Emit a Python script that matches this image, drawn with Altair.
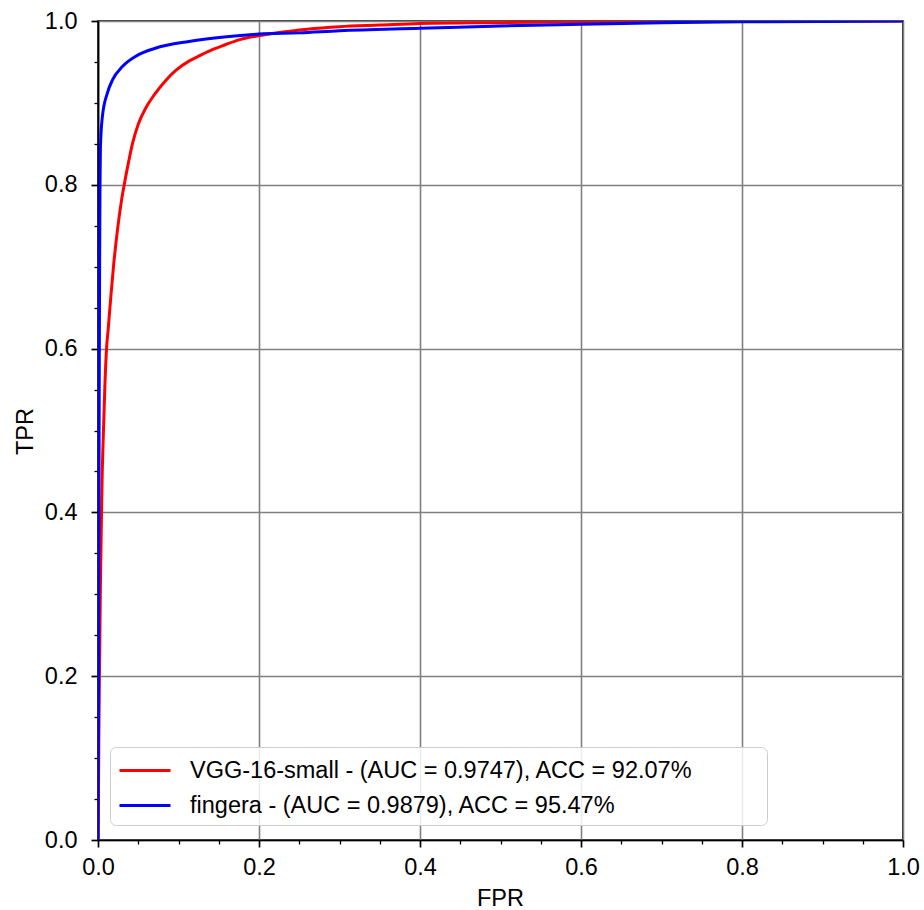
import altair as alt
import pandas as pd

# ROC curve points
vgg_fpr = [0, 0.0005, 0.001, 0.002, 0.003, 0.0043, 0.0051, 0.0068, 0.0085, 0.0106, 0.0126,
           0.0159, 0.0196, 0.0242, 0.0292, 0.0333, 0.038, 0.043, 0.05, 0.06, 0.07, 0.0847,
           0.097, 0.113, 0.127, 0.142, 0.158, 0.175, 0.2, 0.225, 0.26, 0.3, 0.35, 0.4, 0.5,
           0.6, 0.7, 0.8, 0.9, 1.0]
vgg_tpr = [0, 0.05, 0.12, 0.22, 0.31, 0.395, 0.44, 0.50, 0.553, 0.60, 0.623,
           0.663, 0.704, 0.745, 0.781, 0.804, 0.828, 0.851, 0.874, 0.895, 0.910, 0.928,
           0.940, 0.951, 0.958, 0.965, 0.971, 0.977, 0.982, 0.986, 0.990, 0.993, 0.995, 0.997,
           0.998, 0.999, 0.9995, 0.9998, 0.9999, 1.0]

fingera_fpr = [0, 0.0005, 0.001, 0.0015, 0.002, 0.0025, 0.003, 0.0054, 0.0116, 0.018, 0.030,
               0.047, 0.072, 0.113, 0.163, 0.2, 0.25, 0.3, 0.4, 0.5, 0.6, 0.7, 0.8, 0.9, 1.0]
fingera_tpr = [0, 0.15, 0.35, 0.55, 0.70, 0.80, 0.845, 0.883, 0.912, 0.928, 0.944,
               0.957, 0.967, 0.975, 0.981, 0.984, 0.9855, 0.988, 0.991, 0.994, 0.996, 0.998,
               0.999, 0.9995, 1.0]

series_names = ["VGG-16-small - (AUC = 0.9747), ACC = 92.07%",
                "fingera - (AUC = 0.9879), ACC = 95.47%"]
series_colors = ["#ff0000", "#0000ff"]

tick_values = [round(i * 0.05, 2) for i in range(21)]

df_vgg = pd.DataFrame({"FPR": vgg_fpr, "TPR": vgg_tpr, "model": series_names[0],
                       "order": range(len(vgg_fpr))})
df_fin = pd.DataFrame({"FPR": fingera_fpr, "TPR": fingera_tpr, "model": series_names[1],
                       "order": range(len(fingera_fpr))})

FONT = "Liberation Sans"
FS = 23.5
major = "abs(datum.value*5 - round(datum.value*5)) < 0.001"


def make_axis(title, is_x):
    common = dict(
        values=tick_values,
        title=title,
        labelExpr=f"({major}) ? format(datum.value, '.1f') : ''",
        tickSize={"condition": {"test": major, "value": 7}, "value": 4},
        tickWidth={"condition": {"test": major, "value": 1.7}, "value": 1.3},
        gridOpacity={"condition": {"test": major, "value": 1}, "value": 0},
        tickColor="black",
        domainColor="black",
        domainWidth=1.7,
        gridColor="#808080",
        gridWidth=1.6,
        labelFont=FONT,
        labelFontSize=FS,
        labelColor="black",
        titleFont=FONT,
        titleFontSize=FS,
        titleFontWeight="normal",
        titleColor="black",
    )
    if is_x:
        common.update(labelPadding=8, titleX=402, titleY=65, titleBaseline="alphabetic",
                      titleAlign="center", labelFlush=False, labelOverlap=False)
    else:
        common.update(labelPadding=14, titleX=-66, titleY=410, titleBaseline="alphabetic",
                      titleAlign="center", titleAngle=270, labelOverlap=False, labelFlush=False)
    return alt.Axis(**common)


x_enc = alt.X("FPR:Q", scale=alt.Scale(domain=[0, 1], nice=False, zero=False),
              axis=make_axis("FPR", True))
y_enc = alt.Y("TPR:Q", scale=alt.Scale(domain=[0, 1], nice=False, zero=False),
              axis=make_axis("TPR", False))
color_enc = alt.Color(
    "model:N",
    scale=alt.Scale(domain=series_names, range=series_colors),
    legend=alt.Legend(
        title="\u2003",
        titleOrient="right",
        titleFontSize=FS,
        titleFont=FONT,
        titlePadding=66,
        orient="none",
        legendX=12,
        legendY=726,
        symbolType="M-1,0H2.643",
        symbolSize=784,
        symbolStrokeWidth=3,
        symbolFillColor="transparent",
        labelFont=FONT,
        labelFontSize=FS,
        labelColor="black",
        labelOffset=41,
        labelLimit=1000,
        padding=8,
        rowPadding=8,
        fillColor="rgba(255,255,255,0.85)",
        strokeColor="#cccccc",
        cornerRadius=6,
    ),
)

line_vgg = alt.Chart(df_vgg).mark_line(strokeWidth=3, clip=True, interpolate="monotone").encode(
    x=x_enc, y=y_enc, color=color_enc, order="order:Q")
line_fin = alt.Chart(df_fin).mark_line(strokeWidth=3, clip=True, interpolate="monotone").encode(
    x=x_enc, y=y_enc, color=color_enc, order="order:Q")

chart = alt.layer(line_vgg, line_fin).properties(
    width=805,
    height=819,
    autosize=alt.AutoSizeParams(type="none"),
    padding={"left": 98, "top": 21, "right": 21, "bottom": 70},
    background="white",
).configure_view(stroke="black", strokeWidth=1.7)

chart.save("out.html", embed_options={"renderer": "svg", "actions": False})
